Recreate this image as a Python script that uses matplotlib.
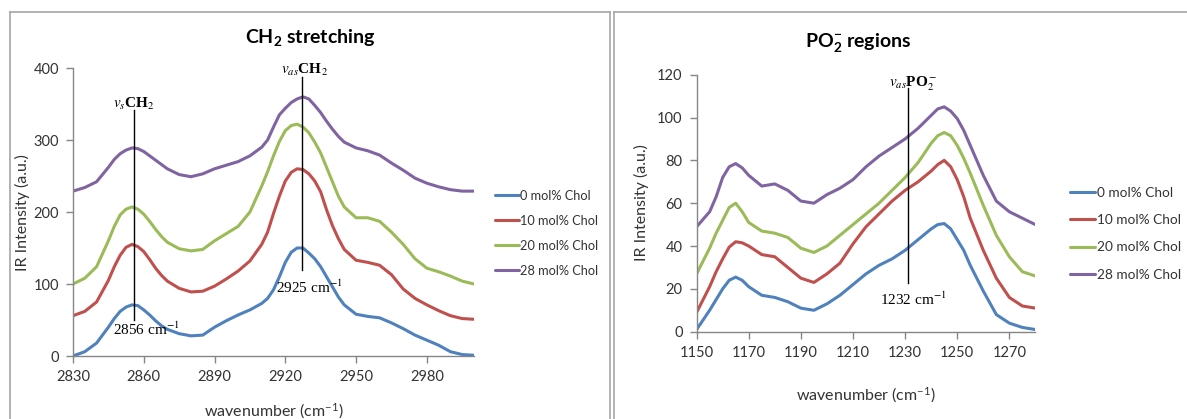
import matplotlib
matplotlib.use("Agg")
import matplotlib.pyplot as plt
from matplotlib.lines import Line2D

plt.rcParams['font.family'] = ['Lato', 'DejaVu Sans']
plt.rcParams['mathtext.fontset'] = 'custom'
plt.rcParams['mathtext.rm'] = 'Lato'
plt.rcParams['mathtext.it'] = 'Lato:italic'
plt.rcParams['mathtext.bf'] = 'Lato:bold'

# ---------------- data ----------------
labels = ['0 mol% Chol', '10 mol% Chol', '20 mol% Chol', '28 mol% Chol']
colors = ['#4F81BD', '#C0504D', '#9BBB59', '#8064A2']

ch2_wn = [2830, 2835, 2840, 2845, 2847.5, 2850, 2852.5, 2855, 2857.5, 2860, 2862.5,
          2865, 2867.5, 2870, 2875, 2880, 2885, 2890, 2895, 2900, 2905, 2910,
          2912.5, 2915, 2917.5, 2920, 2922.5, 2925, 2927.5, 2930, 2932.5, 2935,
          2937.5, 2940, 2942.5, 2945, 2950, 2955, 2960, 2965, 2970, 2975, 2980,
          2985, 2990, 2995, 3000]
ch2_0 = [0, 6, 18, 40, 52, 62, 68, 71, 70, 64, 57,
         49, 42, 37, 31, 28, 29, 40, 49, 57, 64, 73,
         80, 92, 110, 130, 144, 150, 150, 143, 135, 124,
         110, 96, 82, 71, 58, 55, 53, 46, 38, 29, 22,
         15, 6, 2, 1]
ch2_10 = [56, 62, 75, 105, 124, 140, 151, 155, 152, 145, 134,
          122, 112, 104, 94, 89, 90, 97, 107, 118, 132, 155,
          172, 198, 222, 243, 255, 260, 259, 253, 243, 228,
          203, 181, 163, 148, 133, 130, 126, 113, 93, 80, 71,
          63, 56, 52, 51]
ch2_20 = [100, 108, 124, 160, 180, 196, 204, 207, 204, 197, 187,
          176, 166, 158, 149, 146, 148, 160, 170, 180, 200, 236,
          256, 278, 298, 313, 320, 322, 318, 310, 297, 282,
          262, 242, 222, 207, 192, 192, 187, 172, 155, 135, 122,
          117, 111, 104, 100]
ch2_28 = [229, 234, 242, 262, 273, 281, 286, 289, 288, 284, 278,
          272, 266, 260, 252, 249, 253, 260, 265, 270, 278, 290,
          300, 318, 335, 344, 352, 357, 360, 357, 348, 338,
          326, 315, 305, 297, 289, 285, 279, 268, 258, 247, 240,
          235, 231, 229, 229]

po2_wn = [1150, 1155, 1157.5, 1160, 1162.5, 1165, 1167.5, 1170, 1175, 1180, 1185,
          1190, 1195, 1200, 1205, 1210, 1215, 1220, 1225, 1230, 1235, 1240,
          1242.5, 1245, 1247.5, 1250, 1252.5, 1255, 1260, 1265, 1270, 1275, 1280]
po2_0 = [1, 10, 15, 20, 24, 25.5, 24, 21, 17, 16, 14,
         11, 10, 13, 17, 22, 27, 31, 34, 38, 43, 48,
         50, 50.5, 48, 43, 38, 31, 19, 8, 4, 2, 1]
po2_10 = [9, 21, 28, 34, 39.5, 42, 41.5, 40, 36, 35, 30,
          25, 23, 27, 32, 41, 49, 55, 61, 66, 70, 75,
          78, 80, 77, 71, 63, 53, 38, 25, 16, 12, 11]
po2_20 = [27, 39, 46, 52, 58, 60, 56, 51, 47, 46, 44,
          39, 37, 40, 45, 50, 55, 60, 66, 72, 79, 88,
          91.5, 93, 91.5, 87, 81, 74, 59, 45, 35, 28, 26]
po2_28 = [49, 56, 63, 72, 77, 78.5, 76.5, 73, 68, 69, 66,
          61, 60, 64, 67, 71, 77, 82, 86, 90, 95, 101,
          104, 105, 103, 99.5, 94, 87, 73, 61, 56, 53, 50]

ch2_series = [ch2_0, ch2_10, ch2_20, ch2_28]
po2_series = [po2_0, po2_10, po2_20, po2_28]

ch2_xticks = [2830, 2860, 2890, 2920, 2950, 2980]
ch2_yticks = [0, 100, 200, 300, 400]
po2_xticks = [1150, 1170, 1190, 1210, 1230, 1250, 1270]
po2_yticks = [0, 20, 40, 60, 80, 100, 120]

# ---------------- figure ----------------
W, H = 1187, 419
fig = plt.figure(figsize=(W / 100, H / 100), dpi=100)

border = '#A6A6A6'
def fx(px):
    return px / W
def fy(py):
    return 1 - py / H
for xs, ys in [([10, 10], [12, 430]), ([10, 610], [12, 12]), ([610, 610], [12, 430]),
               ([613.5, 613.5], [12, 430]), ([613.5, 1190], [12, 12])]:
    fig.add_artist(Line2D([fx(x) for x in xs], [fy(y) for y in ys], color=border, lw=1.2))

axL = fig.add_axes([fx(73), fy(356), fx(474) - fx(73), fy(68) - fy(356)])
axR = fig.add_axes([fx(696.6), fy(331.7), fx(1035.4) - fx(696.6), fy(74.7) - fy(331.7)])

spine_c = '#868686'
for ax in (axL, axR):
    for s in ('top', 'right'):
        ax.spines[s].set_visible(False)
    for s in ('left', 'bottom'):
        ax.spines[s].set_color(spine_c)
        ax.spines[s].set_linewidth(1.0)
    ax.tick_params(direction='out', length=5, width=1, color=spine_c,
                   labelsize=10.5, labelcolor='#333333', pad=5)
    ax.patch.set_alpha(0)

handles = []
for y, c, lab in zip(ch2_series, colors, labels):
    h, = axL.plot(ch2_wn, y, color=c, lw=2.2, label=lab,
                  solid_capstyle='round', solid_joinstyle='round')
    handles.append(h)
axL.set_xlim(2830, 3000)
axL.set_ylim(0, 400)
axL.set_xticks(ch2_xticks)
axL.set_yticks(ch2_yticks)

for y, c, lab in zip(po2_series, colors, labels):
    axR.plot(po2_wn, y, color=c, lw=2.2, label=lab,
             solid_capstyle='round', solid_joinstyle='round')
axR.set_xlim(1150, 1280)
axR.set_ylim(0, 120)
axR.set_xticks(po2_xticks)
axR.set_yticks(po2_yticks)

serif = dict(family='Liberation Serif', math_fontfamily='stix', color='black')
axL.plot([2856, 2856], [50, 342], color='black', lw=1.0)
axL.plot([2927, 2927], [119, 388], color='black', lw=1.0)
axL.text(2856, 350, r'$\mathit{v_s}$CH$_2$', ha='center', va='center', fontsize=11,
         fontweight='bold', clip_on=False, **serif)
axL.text(2928, 397, r'$\mathit{v_{as}}$CH$_2$', ha='center', va='center', fontsize=11,
         fontweight='bold', clip_on=False, **serif)
axL.text(2861, 37, r'2856 cm$^{-1}$', ha='center', va='center', fontsize=11, **serif)
axL.text(2930, 96, r'2925 cm$^{-1}$', ha='center', va='center', fontsize=11, **serif)

axR.plot([1231, 1231], [22.6, 113.6], color='black', lw=1.0)
axR.text(1233, 115.5, r'$\mathit{v_{as}}$PO$_2^-$', ha='center', va='center', fontsize=11,
         fontweight='bold', clip_on=False, **serif)
axR.text(1233, 15, r'1232 cm$^{-1}$', ha='center', va='center', fontsize=11, **serif)

fig.text(fx(310), fy(38), r'CH$_{\mathbf{2}}$ stretching', ha='center', va='center',
         fontsize=14, fontweight='bold', color='black')
fig.text(fx(858), fy(42), r'PO$_{\mathbf{2}}^{\mathbf{-}}$ regions', ha='center', va='center',
         fontsize=14, fontweight='bold', color='black')
fig.text(fx(274), fy(411), r'wavenumber (cm$^{-1}$)', ha='center', va='center',
         fontsize=11.5, color='#333333')
fig.text(fx(866), fy(395), r'wavenumber (cm$^{-1}$)', ha='center', va='center',
         fontsize=11.5, color='#333333')
fig.text(fx(22), fy(213), 'IR Intensity (a.u.)', ha='center', va='center', rotation=90,
         fontsize=11.5, color='#333333')
fig.text(fx(641), fy(203), 'IR Intensity (a.u.)', ha='center', va='center', rotation=90,
         fontsize=11.5, color='#333333')

fig.legend(handles=handles, labels=labels, loc='upper left',
           bbox_to_anchor=(fx(495), fy(189.5)), frameon=False, fontsize=9.2,
           handlelength=1.85, handletextpad=0.12, labelspacing=1.02,
           borderpad=0, borderaxespad=0, labelcolor='#333333')
fig.legend(handles=handles, labels=labels, loc='upper left',
           bbox_to_anchor=(fx(1070), fy(187)), frameon=False, fontsize=9.8,
           handlelength=1.85, handletextpad=0.12, labelspacing=1.12,
           borderpad=0, borderaxespad=0, labelcolor='#333333')

fig.savefig('out.png', dpi=100)
